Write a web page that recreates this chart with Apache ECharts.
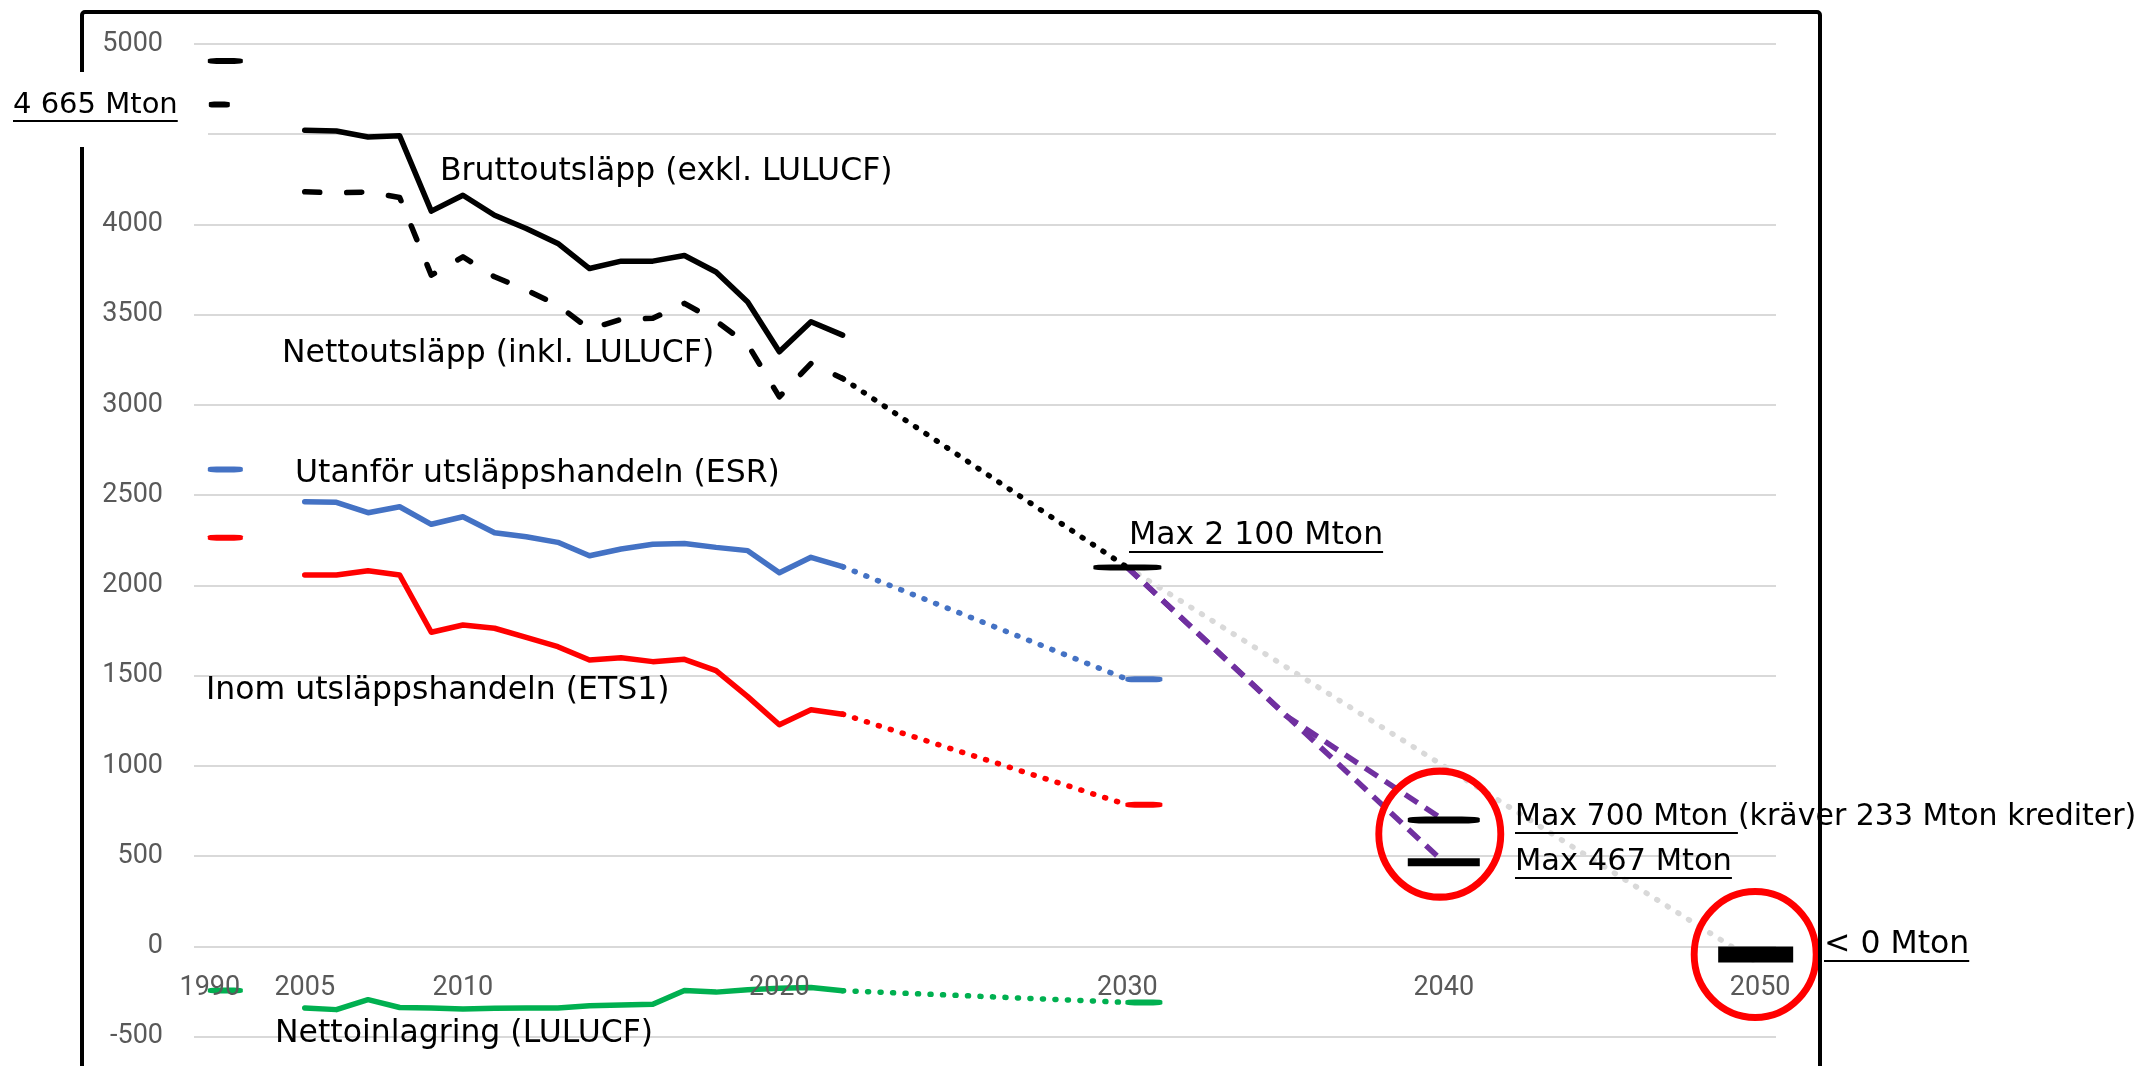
<!DOCTYPE html>
<html lang="sv">
<head>
<meta charset="UTF-8">
<title>Utsläpp</title>
<style>
  html, body { margin: 0; padding: 0; background: #fff; }
  #chart { width: 2154px; height: 1066px; }
</style>
</head>
<body>
<div id="chart"></div>
<script src="https://cdn.jsdelivr.net/npm/echarts@6/dist/echarts.min.js"></script>
<script>
// category slots of the x axis (blank slots keep the spacing of the original)
const categories = ['1990', '', '', '2005', '2006', '2007', '2008', '2009', '2010', '2011', '2012', '2013',
  '2014', '2015', '2016', '2017', '2018', '2019', '2020', '2021', '2022', '2023', '2024', '2025', '2026',
  '2027', '2028', '2029', '', '2030', '2031', '2032', '2033', '2034', '2035', '2036', '2037', '2038', '2039',
  '2040', '2041', '2042', '2043', '2044', '2045', '2046', '2047', '2048', '2049', '2050'];
const tickLabels = ['1990', '2005', '2010', '2020', '2030', '2040', '2050'];

const histYears = ['2005', '2006', '2007', '2008', '2009', '2010', '2011', '2012', '2013',
  '2014', '2015', '2016', '2017', '2018', '2019', '2020', '2021', '2022'];
const gross = [4522, 4518, 4485, 4491, 4074, 4162, 4051, 3978, 3895, 3756, 3797, 3797, 3828, 3737, 3571, 3295, 3461, 3387];
const net = [4181, 4175, 4180, 4150, 3719, 3821, 3710, 3637, 3553, 3420, 3475, 3480, 3563, 3465, 3335, 3045, 3230, 3147];
const esr = [2464, 2461, 2403, 2436, 2339, 2381, 2292, 2270, 2239, 2165, 2202, 2228, 2233, 2211, 2193, 2071, 2156, 2104];
const ets = [2058, 2058, 2082, 2058, 1741, 1781, 1763, 1713, 1661, 1587, 1600, 1578, 1591, 1528, 1384, 1228, 1311, 1287];
const lulucf = [-341, -350, -295, -338, -341, -347, -343, -341, -341, -328, -325, -320, -244, -253, -240, -232, -227, -245];

// 1990: brutto, netto, ESR, ETS, LULUCF
const start1990 = [4906, 4665, 2643, 2265, -244];
// 2030: netto, ESR, ETS, LULUCF
const target2030 = [2100, 1480, 785, -310];
// paths after 2030
const pathAYears = ['2030', '2035', '2040'];
const pathA = [2100, 1280, 700];
const pathBYears = ['2030', '2040'];
const pathB = [2100, 467];
const grayYears = ['2030', '2050'];
const grayPath = [2100, -100];
const target2050 = [0];

const BLACK = '#000000', BLUE = '#4472C4', RED = '#FF0000', GREEN = '#00B050',
      PURPLE = '#7030A0', GRAY = '#D9D9D9';
const FONT = '"DejaVu Sans"';
const TICKFONT = 'Roboto';
const DOT = [1, 11.5];

let chart = echarts.init(document.getElementById('chart'));

function hist(values) {
  return histYears.map((y, i) => [y, values[i]]);
}
function pairs(years, values) {
  return years.map((y, i) => [y, values[i]]);
}
function line(data, color, type, cap, z) {
  return {
    type: 'line', data, symbol: 'none', silent: true, z: z || 2,
    lineStyle: { color, width: 5.5, type, cap: cap || 'round', join: 'round' }
  };
}
function mark(x, v, color, w, h, dx, dy, shape) {
  return {
    value: [x, v], symbol: shape || 'roundRect', symbolSize: [w, h],
    symbolOffset: [dx || 0, dy || 0], itemStyle: { color, opacity: 1 }
  };
}

let markers = [
  mark('1990', start1990[0], BLACK, 35, 6, 15.5),
  mark('1990', start1990[1], BLACK, 21, 6, 9.5),
  mark('1990', start1990[2], BLUE, 35, 6, 15.5),
  mark('1990', start1990[3], RED, 35, 6, 15.5),
  mark('1990', start1990[4], GREEN, 35, 6, 15.5),
  mark('2030', target2030[0], BLACK, 68, 6, 0),
  mark('2030', target2030[1], BLUE, 37, 6, 16.5),
  mark('2030', target2030[2], RED, 37, 6, 16.5),
  mark('2030', target2030[3], GREEN, 37, 6, 16.5),
  mark('2040', pathA[2], BLACK, 72, 7, 0),
  mark('2040', pathB[1], BLACK, 72, 8, 0, 0, 'rect'),
  mark('2050', target2050[0], BLACK, 75, 16, -4.5, 8, 'rect')
];

let circles = [
  { value: ['2040', pathA[2]], symbolOffset: [-4, 14] },
  { value: ['2050', target2050[0]], symbolOffset: [-5, 8] }
];

let series = [
  line(pairs(grayYears, grayPath), GRAY, DOT, 'round', 1),
  line(hist(gross), BLACK, 'solid'),
  line(hist(net), BLACK, [15, 27]),
  line(hist(esr), BLUE, 'solid'),
  line(hist(ets), RED, 'solid'),
  line(hist(lulucf), GREEN, 'solid'),
  line([['2022', net[17]], ['2030', target2030[0]]], BLACK, DOT),
  line([['2022', esr[17]], ['2030', target2030[1]]], BLUE, DOT),
  line([['2022', ets[17]], ['2030', target2030[2]]], RED, DOT),
  line([['2022', lulucf[17]], ['2030', target2030[3]]], GREEN, DOT),
  line(pairs(pathAYears, pathA), PURPLE, [15, 9], 'butt', 2),
  line(pairs(pathBYears, pathB), PURPLE, [15, 9], 'butt', 2),
  { type: 'scatter', data: markers, silent: true, z: 3 },
  {
    type: 'scatter', data: circles, silent: true, z: 4,
    symbol: 'circle', symbolSize: [122, 126],
    itemStyle: { color: 'rgba(0,0,0,0)', borderColor: RED, borderWidth: 7, opacity: 1 }
  }
];

// text annotations with optional underlined part
const measureCtx = document.createElement('canvas').getContext('2d');
function textWidth(str, size) {
  measureCtx.font = size + 'px ' + FONT;
  return measureCtx.measureText(str).width;
}
const notes = [
  { text: 'Bruttoutsläpp (exkl. LULUCF)', x: 440, y: 172 },
  { text: 'Nettoutsläpp (inkl. LULUCF)', x: 282, y: 354 },
  { text: 'Utanför utsläppshandeln (ESR)', x: 295, y: 474 },
  { text: 'Inom utsläppshandeln (ETS1)', x: 206, y: 691 },
  { text: 'Nettoinlagring (LULUCF)', x: 275, y: 1034 },
  { text: 'Max 2 100 Mton', x: 1129, y: 536, u: 'Max 2 100 Mton' },
  { text: 'Max 700 Mton (kräver 233 Mton krediter)', x: 1515, y: 817, u: 'Max 700 Mton ', size: 30 },
  { text: 'Max 467 Mton', x: 1515, y: 862, u: 'Max 467 Mton', size: 30.5 },
  { text: '< 0 Mton', x: 1824, y: 945, u: '< 0 Mton' },
  { text: '4 665 Mton', x: 13, y: 105, u: '4 665 Mton', size: 29 }
];

let graphics = [
  { type: 'rect', z: 90, shape: { x: 82, y: 12, width: 1738, height: 1120, r: 3 },
    style: { fill: null, stroke: BLACK, lineWidth: 4 } },
  { type: 'rect', z: 95, shape: { x: 0, y: 72, width: 208, height: 75 }, style: { fill: '#fff' } }
];
notes.forEach((n) => {
  let size = n.size || 31.5;
  graphics.push({
    type: 'text', z: 100, x: n.x, y: n.y,
    style: { text: n.text, fontSize: size, fontFamily: FONT, fill: BLACK, align: 'left', verticalAlign: 'middle' }
  });
  if (n.u) {
    graphics.push({
      type: 'rect', z: 100,
      shape: { x: n.x, y: n.y + 15, width: textWidth(n.u, size), height: 2 },
      style: { fill: BLACK }
    });
  }
});

let option = {
  animation: false,
  backgroundColor: '#fff',
  textStyle: { fontFamily: FONT },
  grid: { left: 194, right: 378, top: 44, bottom: 29.3, containLabel: false, outerBoundsMode: 'none' },
  xAxis: {
    type: 'category',
    data: categories,
    boundaryGap: true,
    position: 'bottom',
    z: 5,
    axisLine: { show: false, onZero: false },
    axisTick: { show: false },
    splitLine: { show: false },
    axisLabel: {
      interval: 0, margin: -62, fontSize: 27, color: '#595959', fontFamily: TICKFONT,
      formatter: (v) => tickLabels.includes(v) ? v : ''
    }
  },
  yAxis: {
    type: 'value',
    min: -500, max: 5000, interval: 500,
    axisLine: { show: false },
    axisTick: { show: false },
    splitLine: { lineStyle: { color: GRAY, width: 2 } },
    axisLabel: {
      margin: 31, fontSize: 27, color: '#595959', fontFamily: TICKFONT,
      formatter: (v) => String(v)
    }
  },
  graphic: { elements: graphics },
  series
};
chart.setOption(option);
</script>
</body>
</html>
